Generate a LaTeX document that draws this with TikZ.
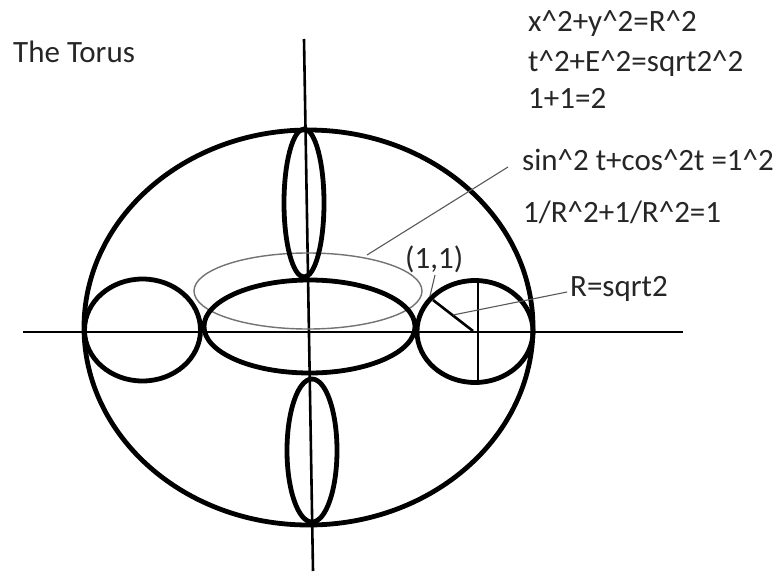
\documentclass[tikz,border=0pt]{standalone}
\usepackage{fontspec}
\setmainfont{Carlito}
\begin{document}
\begin{tikzpicture}[x=1pt,y=-1pt,
  thickline/.style={line width=4.8pt, black},
  axisline/.style={line width=2.6pt, black},
  grayline/.style={line width=1.4pt, black!55},
  leader/.style={line width=1.1pt, black!65},
  lbl/.style={inner sep=0pt, anchor=base west, text=black!85, font=\fontsize{31pt}{37pt}\selectfont}]
\useasboundingbox[fill=white] (0,0) rectangle (780,571);
% axes
\coordinate (vt) at (304,39);
\coordinate (vb) at (313,571);
\coordinate (hl) at (23,332);
\coordinate (hr) at (683,332);
\draw[axisline] (vt) -- (vb);
\draw[axisline] (hl) -- (hr);
% gray ellipse
\draw[grayline] (308,291) ellipse [x radius=114pt, y radius=38pt];
% outer ellipse
\draw[thickline] (308.5,327.5) ellipse [x radius=224.5pt, y radius=197.5pt];
% inner ellipse
\draw[thickline] (309.5,326.5) ellipse [x radius=105.5pt, y radius=46.5pt];
% side circles
\draw[thickline] (142.5,330) ellipse [x radius=58pt, y radius=51pt];
\draw[thickline] (475,331.5) ellipse [x radius=58pt, y radius=51pt];
% thin vertical ellipses
\draw[thickline] (304,203) ellipse [x radius=20pt, y radius=74pt];
\draw[thickline] (312,450.5) ellipse [x radius=25pt, y radius=71.5pt];
% right circle inner lines
\coordinate (rct) at (478,281);
\coordinate (rcb) at (478,383);
\coordinate (rc) at (473,331);
\coordinate (rp) at (433,300);
\draw[axisline] (rct) -- (rcb);
\draw[axisline] (rc) -- (rp);
% texts
\node[lbl] (title) at (13,62) {The Torus};
\node[lbl] (eq1) at (528,31) {x\^{}2+y\^{}2=R\^{}2};
\node[lbl] (eq2) at (528,71) {t\^{}2+E\^{}2=sqrt2\^{}2};
\node[lbl] (eq3) at (528,108) {1+1=2};
\node[lbl] (eq4) at (522,170) {sin\^{}2 t+cos\^{}2t =1\^{}2};
\node[lbl] (eq5) at (523,222) {1/R\^{}2+1/R\^{}2=1};
\node[lbl] (pt) at (405,268) {(1,1)};
\node[lbl] (rad) at (570,296) {R=sqrt2};
% leaders
\coordinate (l1a) at (508,167);
\coordinate (l1b) at (367,255);
\coordinate (l2a) at (567,292);
\coordinate (l2b) at (453,315);
\coordinate (l3a) at (435,275);
\coordinate (l3b) at (430,296);
\draw[leader] (l1a) -- (l1b);
\draw[leader] (l2a) -- (l2b);
\draw[leader] (l3a) -- (l3b);
\end{tikzpicture}
\end{document}
